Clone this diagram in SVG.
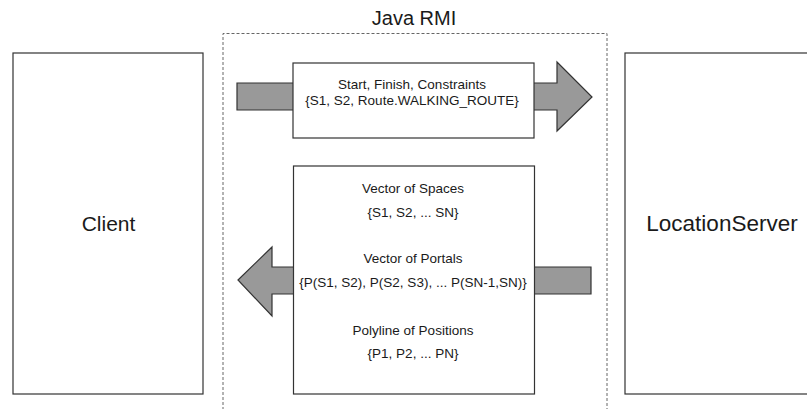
<svg xmlns="http://www.w3.org/2000/svg" width="807" height="409" viewBox="0 0 807 409">
<style>
.box{fill:#fff;stroke:#333;stroke-width:1.2}
.arrow{fill:#999;stroke:#333;stroke-width:1.2;stroke-linejoin:miter}
.dash{fill:none;stroke:#666;stroke-width:1;stroke-dasharray:3,2}
.t{font-family:"Liberation Sans",Arial,sans-serif;fill:#1a1a1a;text-anchor:middle}
.s{font-size:13.5px}
.l{font-size:21px}
</style>
<rect width="807" height="409" fill="#fff"/>
<g id="rmi">
<path class="dash" d="M223,415 V33.5 H607 V415"/>
<text class="t" x="414" y="25" style="font-size:20px">Java RMI</text>
</g>
<g id="client">
<rect class="box" x="13" y="53" width="190" height="341"/>
<text class="t l" x="108.5" y="231">Client</text>
</g>
<g id="locationserver">
<rect class="box" x="625" y="53" width="200" height="341"/>
<text class="t l" x="722" y="231" style="font-size:22.5px">LocationServer</text>
</g>
<g id="connectors">
<polygon class="arrow" points="237,83 557,83 557,62 592,97 557,131 557,110 237,110"/>
<polygon class="arrow" points="238,280 272,247 272,267 591,267 591,294 272,294 272,316"/>
</g>
<g id="request">
<rect class="box" x="293" y="63" width="241" height="75"/>
<text class="t s" x="412" y="89">Start, Finish, Constraints</text>
<text class="t s" x="412" y="105">{S1, S2, Route.WALKING_ROUTE}</text>
</g>
<g id="response">
<rect class="box" x="293.5" y="166" width="241" height="228"/>
<text class="t s" x="413" y="193">Vector of Spaces</text>
<text class="t s" x="413" y="217">{S1, S2, ... SN}</text>
<text class="t s" x="413" y="263">Vector of Portals</text>
<text class="t s" x="413" y="287">{P(S1, S2), P(S2, S3), ... P(SN-1,SN)}</text>
<text class="t s" x="413" y="335">Polyline of Positions</text>
<text class="t s" x="413" y="358">{P1, P2, ... PN}</text>
</g>
</svg>
